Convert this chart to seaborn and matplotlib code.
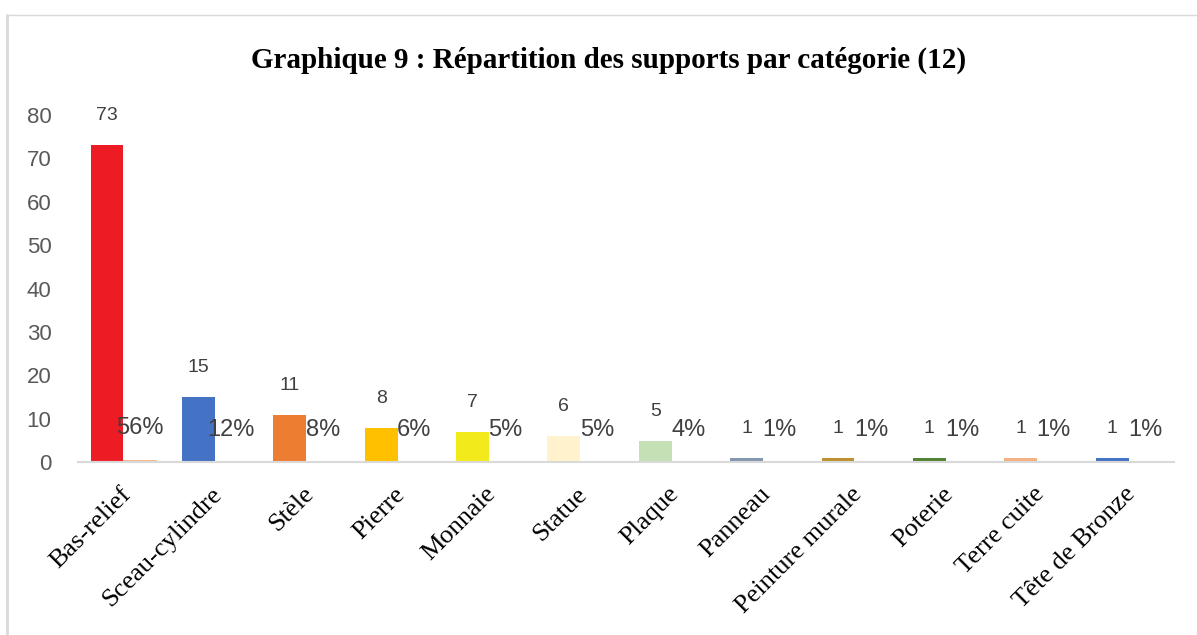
import pandas as pd
import matplotlib.pyplot as plt
import seaborn as sns
from matplotlib.lines import Line2D
from matplotlib.transforms import ScaledTranslation

categories = ["Bas-relief", "Sceau-cylindre", "Stèle", "Pierre", "Monnaie", "Statue",
              "Plaque", "Panneau", "Peinture murale", "Poterie", "Terre cuite", "Tête de Bronze"]
counts = [73, 15, 11, 8, 7, 6, 5, 1, 1, 1, 1, 1]
percents = [0.56, 0.12, 0.08, 0.06, 0.05, 0.05, 0.04, 0.01, 0.01, 0.01, 0.01, 0.01]
bar_colors = ["#ED1C24", "#4472C4", "#ED7D31", "#FFC000", "#F2EA1B", "#FFF2CC",
              "#C5E0B4", "#8497B0", "#BF9030", "#548235", "#F4B183", "#4472C4"]
pct_color = "#F4B183"

df = pd.DataFrame({
    "categorie": categories * 2,
    "valeur": counts + percents,
    "serie": ["Nombre"] * len(categories) + ["Pourcentage"] * len(categories),
})

sns.set_theme(style="white")
plt.rcParams["font.family"] = ["Liberation Sans", "DejaVu Sans"]

fig = plt.figure(figsize=(11.97, 6.35), dpi=100)
ax = fig.add_axes([0.065, 0.272, 0.916, 0.547])

sns.barplot(data=df, x="categorie", y="valeur", hue="serie", order=categories,
            palette=["#4472C4", pct_color], width=0.72, gap=0, legend=False,
            saturation=1, linewidth=0, ax=ax)

for patch, c in zip(ax.containers[0], bar_colors):
    patch.set_facecolor(c)
for patch in ax.containers[1]:
    patch.set_facecolor(pct_color)
    patch.set_edgecolor(pct_color)
    patch.set_linewidth(0.6)

ax.bar_label(ax.containers[0], labels=[str(v) for v in counts], padding=15,
             fontsize=14, color="#404040")
ax.bar_label(ax.containers[1], labels=[f"{round(p * 100)}%" for p in percents],
             padding=15, fontsize=17, color="#404040")

ax.set_ylim(0, 80)
ax.set_xlim(-0.5, len(categories) - 0.5)
ax.set_yticks(range(0, 81, 10))
ax.set_xlabel("")
ax.set_ylabel("")
ax.tick_params(axis="y", length=0, pad=19, labelsize=16, labelcolor="#595959")
ax.tick_params(axis="x", length=0, pad=2)
ax.set_xticks(range(len(categories)))
ax.set_xticklabels(categories, rotation=45, ha="right", va="top",
                   rotation_mode="anchor", family="Liberation Serif",
                   fontsize=19, color="black")
shift = ScaledTranslation(-4 / 100, -18 / 100, fig.dpi_scale_trans)
for lbl in ax.get_xticklabels():
    lbl.set_transform(lbl.get_transform() + shift)

for side in ["left", "right", "top"]:
    ax.spines[side].set_visible(False)
ax.spines["bottom"].set_color("#D9D9D9")
ax.spines["bottom"].set_linewidth(1.5)

fig.text(0.508, 0.905, "Graphique 9 : Répartition des supports par catégorie (12)",
         ha="center", va="center", family="Liberation Serif", fontweight="bold",
         fontsize=21, color="black")

fig.add_artist(Line2D([0.006, 0.006], [0, 0.976], transform=fig.transFigure,
                      color="#D9D9D9", linewidth=2))
fig.add_artist(Line2D([0.006, 0.999], [0.976, 0.976], transform=fig.transFigure,
                      color="#D9D9D9", linewidth=1))

fig.savefig("out.png", dpi=100, facecolor="white")
